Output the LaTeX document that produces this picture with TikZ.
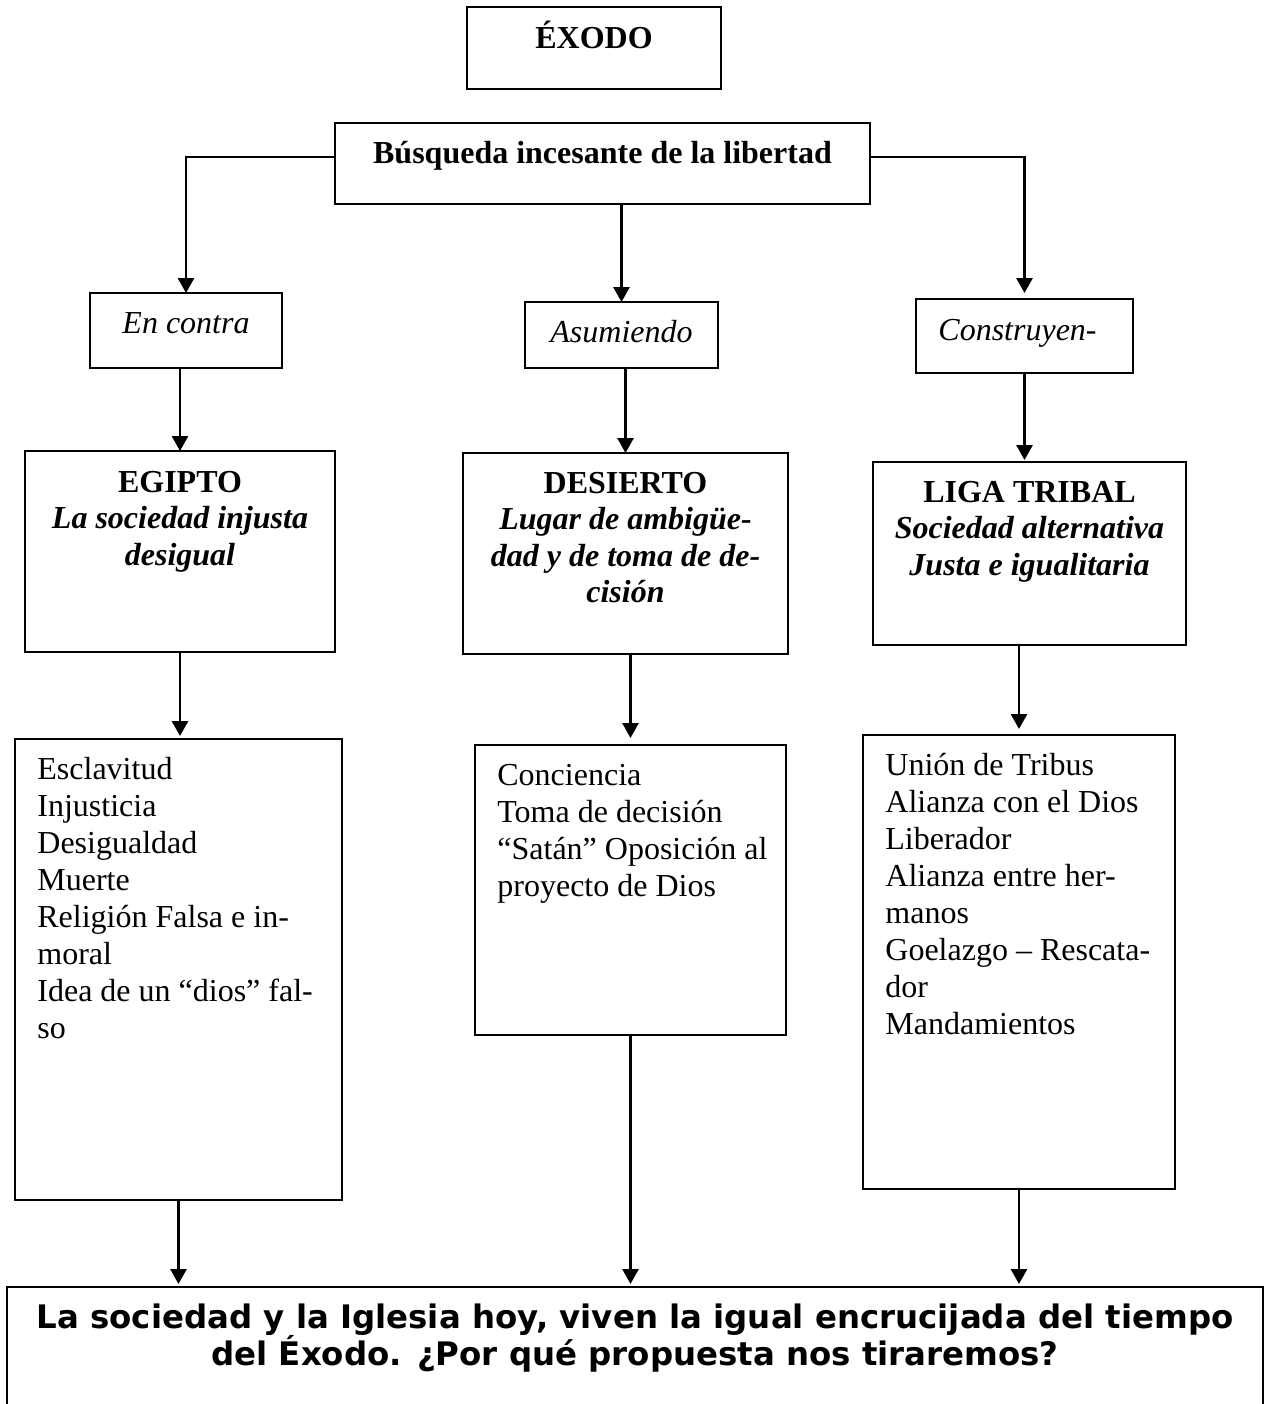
\documentclass[tikz,border=0pt]{standalone}
\usepackage{fontspec}
\setmainfont{Liberation Serif}
\newfontfamily\verdana{DejaVu Sans}
\usetikzlibrary{arrows.meta,fit,calc}

\begin{document}
\begin{tikzpicture}[x=0.5pt, y=-0.5pt, line width=1.4pt, >={Triangle[length=7.5pt,width=8pt]}]
    \tikzstyle{box}=[draw, line width=1.3pt, inner sep=0pt, outer sep=0pt]
    \tikzstyle{txt}=[inner sep=0pt, font=\fontsize{16}{18}\selectfont]
    \tikzstyle{head}=[txt, anchor=base, font=\fontsize{16}{18}\selectfont\bfseries]
    \tikzstyle{subhead}=[txt, anchor=base, font=\fontsize{16}{18}\selectfont\bfseries\itshape]
    \tikzstyle{small}=[txt, font=\fontsize{16}{18}\selectfont\itshape]
    \tikzstyle{item}=[txt, anchor=base west]
    \tikzstyle{link}=[->]

    \useasboundingbox (0,0) rectangle (1265,1404);

    % Draw the boxes
    \node[box, fit={(467,7) (721,89)}] (exodo) {};
    \node[box, fit={(335,123) (870,204)}] (busq) {};
    \node[box, fit={(90,293) (282,368)}] (contra) {};
    \node[box, fit={(525,302) (718,368)}] (asum) {};
    \node[box, fit={(916,299) (1133,373)}] (constr) {};
    \node[box, fit={(25,451) (335,652)}] (egipto) {};
    \node[box, fit={(463,453) (788,654)}] (desierto) {};
    \node[box, fit={(873,462) (1186,645)}] (liga) {};
    \node[box, fit={(15,739) (342,1200)}] (lista1) {};
    \node[box, fit={(475,745) (786,1035)}] (lista2) {};
    \node[box, fit={(863,735) (1175,1189)}] (lista3) {};
    \node[box, fit={(7,1287) (1263,1440)}] (final) {};

    % Titles
    \node[head] (exodo-t) at ($(exodo.north)+(0,41)$) {ÉXODO};
    \node[head] (busq-t) at ($(busq.north)+(0,40)$) {Búsqueda incesante de la libertad};

    \node[small, anchor=base] (contra-t) at ($(contra.north)+(0,40)$) {En contra};
    \node[small, anchor=base] (asum-t) at ($(asum.north)+(0,40)$) {Asumiendo};
    \node[small, anchor=base west] (constr-t) at ($(constr.north west)+(21,41)$) {Construyen-};

    % Heads of the three ways
    \node[head] (egipto-h) at ($(egipto.north)+(0,41)$) {EGIPTO};
    \foreach \t [count=\i] in {La sociedad injusta, desigual}
        \node[subhead] (egipto-\i) at ($(egipto.north)+(0,{41+36.5*\i})$) {\t};

    \node[head] (desierto-h) at ($(desierto.north)+(0,40)$) {DESIERTO};
    \foreach \t [count=\i] in {Lugar de ambigüe-, dad y de toma de de-, cisión}
        \node[subhead] (desierto-\i) at ($(desierto.north)+(0,{40+36.5*\i})$) {\t};

    \node[head] (liga-h) at ($(liga.north)+(0,40)$) {LIGA TRIBAL};
    \foreach \t [count=\i] in {Sociedad alternativa, Justa e igualitaria}
        \node[subhead] (liga-\i) at ($(liga.north)+(0,{40+36.5*\i})$) {\t};

    % Lists
    \foreach \t [count=\i] in {Esclavitud, Injusticia, Desigualdad, Muerte, Religión Falsa e in-, moral, Idea de un “dios” fal-, so}
        \node[item] (lista1-\i) at ($(lista1.north west)+(21,{40+37*(\i-1)})$) {\t};

    \foreach \t [count=\i] in {Conciencia, Toma de decisión, “Satán” Oposición al, proyecto de Dios}
        \node[item] (lista2-\i) at ($(lista2.north west)+(21,{40+37*(\i-1)})$) {\t};

    \foreach \t [count=\i] in {Unión de Tribus, Alianza con el Dios, Liberador, Alianza entre her-, manos, Goelazgo – Rescata-, dor, Mandamientos}
        \node[item] (lista3-\i) at ($(lista3.north west)+(21,{40+37*(\i-1)})$) {\t};

    % Closing question
    \node[txt, anchor=base, font=\verdana\bfseries\fontsize{16.2}{18}\selectfont] (final-1) at ($(final.north)+(0,41)$) {La sociedad y la Iglesia hoy, viven la igual encrucijada del tiempo};
    \node[txt, anchor=base, font=\verdana\bfseries\fontsize{16.2}{18}\selectfont] (final-2) at ($(final.north)+(0,78)$) {del Éxodo. ¿Por qué propuesta nos tiraremos?};

    % Connect the boxes
    \draw[link] ([yshift=3.25pt]busq.west) -| (contra.north);
    \draw[link] ([yshift=3.25pt]busq.east) -| ([yshift=3pt]constr.north);
    \draw[link] (busq.south -| asum.north) -- (asum.north);

    \draw[link] (contra.south -| egipto.north) -- (egipto.north);
    \draw[link] (asum.south -| desierto.north) -- (desierto.north);
    \draw[link] (constr.south) -- ([yshift=1pt]constr.south |- liga.north);

    \draw[link] (egipto.south) -- ([yshift=1.5pt]egipto.south |- lista1.north);
    \draw[link] (desierto.south -| lista2.north) -- ([yshift=3.5pt]lista2.north);
    \draw[link] (liga.south -| lista3.north) -- ([yshift=3pt]lista3.north);

    \foreach \src in {lista1,lista2,lista3}
        \draw[link] (\src.south) -- ([yshift=1.5pt]\src.south |- final.north);
\end{tikzpicture}
\end{document}
